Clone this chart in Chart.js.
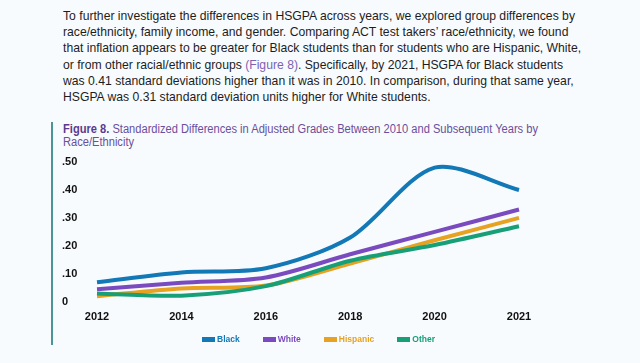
<!DOCTYPE html>
<html>
<head>
<meta charset="utf-8">
<script src="https://cdn.jsdelivr.net/npm/chart.js@4.4.1/dist/chart.umd.min.js"></script>
<style>
  html, body { margin: 0; padding: 0; }
  body {
    width: 640px; height: 363px; position: relative; overflow: hidden;
    background: #f8fbfe;
    font-family: 'Liberation Sans', Arial, sans-serif;
  }
  #intro {
    position: absolute; left: 63px; top: 8px;
    font-size: 13.5px; line-height: 16.2px; color: #1d1d1d;
    white-space: nowrap; transform-origin: 0 0;
  }
  #intro .ref { color: #7d62b3; }
  #bar { position: absolute; left: 51px; top: 122px; width: 2px; height: 223px; background: #4a9696; }
  #figTitle {
    position: absolute; left: 63px; top: 123px;
    font-size: 12px; line-height: 13px; color: #6a4f9c;
    white-space: nowrap; transform-origin: 0 0;
  }
  #figTitle b { color: #5a3b8b; }
  #chart { position: absolute; left: 0; top: 0; }
  #legend {
    position: absolute; left: 202px; top: 333px;
    display: flex; gap: 23px; font-size: 8.5px; font-weight: bold; line-height: 13px;
  }
  #legend .item { display: flex; align-items: center; }
  #legend .box { width: 13px; height: 5px; margin-right: 2px; }
</style>
</head>
<body>
<div id="intro">
  <span class="l">To further investigate the differences in HSGPA across years, we explored group differences by</span><br>
  <span class="l">race/ethnicity, family income, and gender. Comparing ACT test takers’ race/ethnicity, we found</span><br>
  <span class="l">that inflation appears to be greater for Black students than for students who are Hispanic, White,</span><br>
  <span class="l">or from other racial/ethnic groups <span class="ref">(Figure 8)</span>. Specifically, by 2021, HSGPA for Black students</span><br>
  <span class="l">was 0.41 standard deviations higher than it was in 2010. In comparison, during that same year,</span><br>
  <span class="l">HSGPA was 0.31 standard deviation units higher for White students.</span>
</div>
<div id="bar"></div>
<div id="figTitle"><span id="t1"><b>Figure 8.</b> Standardized Differences in Adjusted Grades Between 2010 and Subsequent Years by</span><br>Race/Ethnicity</div>
<canvas id="chart" width="640" height="363"></canvas>
<div id="legend"></div>
<script>
// values
var years = ['2012', '2014', '2016', '2018', '2020', '2021'];
var blackVals = [0.07, 0.105, 0.12, 0.23, 0.48, 0.40];
var whiteVals = [0.045, 0.068, 0.087, 0.17, 0.25, 0.33];
var hispanicVals = [0.02, 0.048, 0.058, 0.137, 0.22, 0.30];
var otherVals = [0.03, 0.022, 0.056, 0.147, 0.203, 0.27];
var yTickLabels = ['0', '.10', '.20', '.30', '.40', '.50'];

var seriesNames = ['Black', 'White', 'Hispanic', 'Other'];
var seriesColors = ['#1278b6', '#7a4bbf', '#e6a220', '#17a078'];

// squeeze the text blocks a bit, the source is rendered narrow
function fitWidth(el, inner, target) {
  var w = inner.getBoundingClientRect().width;
  el.style.transform = 'scaleX(' + (target / w) + ')';
}
fitWidth(document.getElementById('intro'), document.querySelector('#intro .l'), 512);
fitWidth(document.getElementById('figTitle'), document.getElementById('t1'), 475);

var font = "'Liberation Sans', Arial, sans-serif";
var allVals = [blackVals, whiteVals, hispanicVals, otherVals];
var datasets = [];
for (var i = 0; i < seriesNames.length; i++) {
  datasets.push({
    label: seriesNames[i],
    data: allVals[i],
    borderColor: seriesColors[i],
    backgroundColor: seriesColors[i],
    borderWidth: 4,
    pointRadius: 0,
    tension: 0.3,
    fill: false
  });
}
// draw last series first so Black ends on top
datasets.reverse();

var chart = new Chart(document.getElementById('chart'), {
  type: 'line',
  data: { labels: years, datasets: datasets },
  options: {
    responsive: false,
    animation: false,
    layout: { padding: { left: 62, right: 121, top: 162, bottom: 30 } },
    plugins: {
      legend: { display: false },
      tooltip: { enabled: false }
    },
    scales: {
      x: {
        offset: false,
        grid: { display: false, drawTicks: false },
        border: { display: false },
        ticks: { color: '#111', padding: 9, maxRotation: 0, font: { family: font, size: 11, weight: 'bold' } }
      },
      y: {
        min: 0,
        max: 0.5,
        afterFit: function (scale) { scale.width = 35; },
        grid: { display: false, drawTicks: false },
        border: { display: false },
        ticks: {
          stepSize: 0.1,
          padding: 0,
          crossAlign: 'far',
          color: '#111',
          font: { family: font, size: 11, weight: 'bold' },
          callback: function (v, idx) { return yTickLabels[idx]; }
        }
      }
    }
  }
});

// legend in the page, built from the series
var legendHtml = '';
for (var j = 0; j < seriesNames.length; j++) {
  legendHtml += '<div class="item" style="color:' + seriesColors[j] + '">' +
    '<span class="box" style="background:' + seriesColors[j] + '"></span>' + seriesNames[j] + '</div>';
}
document.getElementById('legend').innerHTML = legendHtml;
</script>
</body>
</html>
